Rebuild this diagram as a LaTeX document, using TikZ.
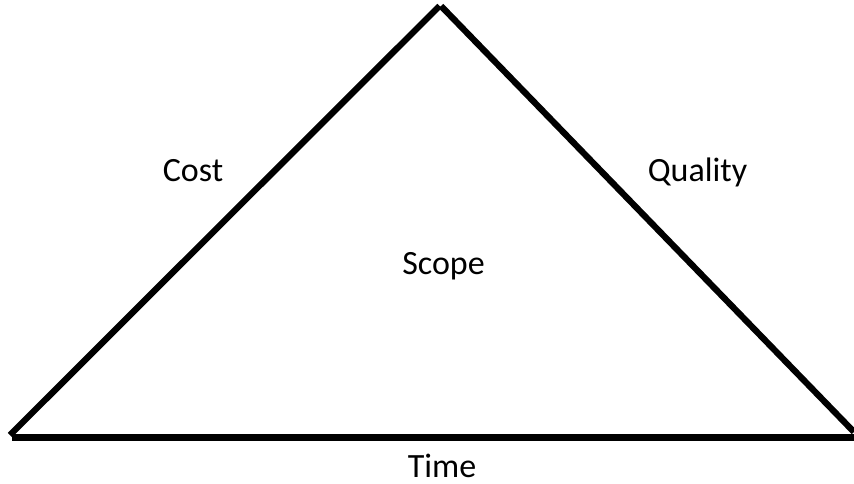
\documentclass[tikz,border=0pt]{standalone}
\usepackage{fontspec}
\setmainfont{Carlito}
\begin{document}
\begin{tikzpicture}[x=1pt,y=-1pt,
  edge/.style={line width=6.3pt,black,line cap=butt},
  lbl/.style={font=\fontsize{34}{40}\selectfont,text=black,inner sep=0pt,anchor=base}]
\useasboundingbox (0,0) rectangle (854,484);
% corners of the triangle
\coordinate (apexL) at (439.5,6);
\coordinate (apexR) at (441,6);
\coordinate (botL) at (10,435);
\coordinate (botLb) at (12,437.5);
\coordinate (botR) at (854,432);
\coordinate (botRb) at (854,437.5);
% sides
\draw[edge] (botL) -- (apexL);
\draw[edge] (apexR) -- (botR);
\draw[edge] (botLb) -- (botRb);
% labels
\node[lbl] (cost) at (193,182) {Cost};
\node[lbl] (quality) at (697.5,182) {Quality};
\node[lbl] (scope) at (443.5,274) {Scope};
\node[lbl] (time) at (442,477) {Time};
\end{tikzpicture}
\end{document}
